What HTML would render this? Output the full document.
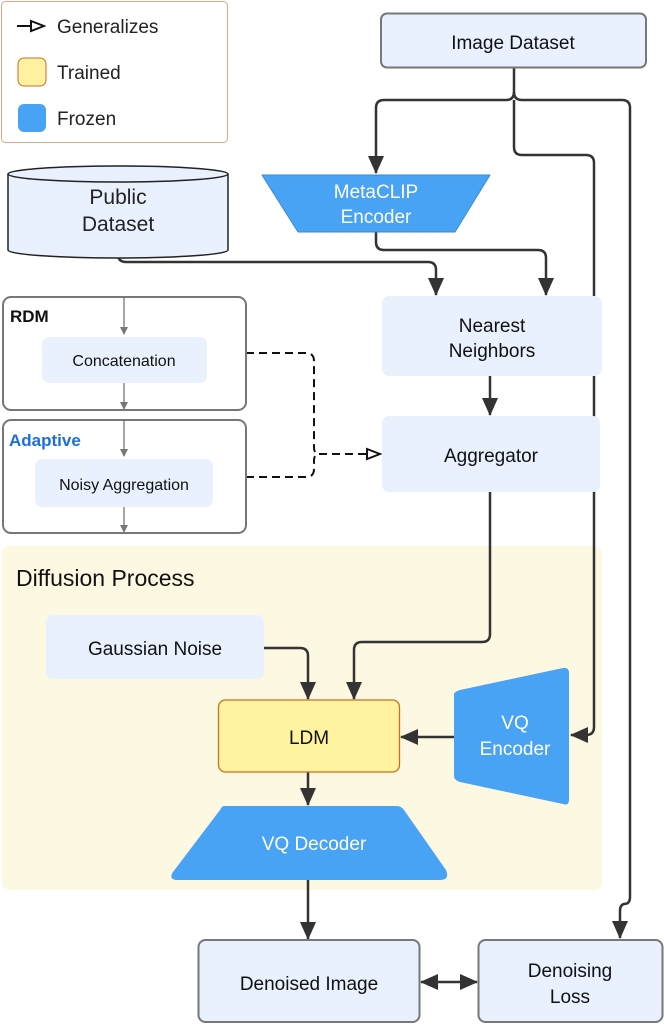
<!DOCTYPE html>
<html><head><meta charset="utf-8"><style>
html,body{margin:0;padding:0;background:#fff}
svg{display:block;font-family:"Liberation Sans",sans-serif}
</style></head><body>
<svg width="664" height="1025" viewBox="0 0 664 1025" xmlns="http://www.w3.org/2000/svg">
<defs>
<marker id="as" markerWidth="18" markerHeight="18" refX="17" refY="9" orient="auto" markerUnits="userSpaceOnUse"><path d="M0,1 L18,9 L0,17 Z" fill="#333"/></marker>
<marker id="ab" markerWidth="18" markerHeight="18" refX="1" refY="9" orient="auto" markerUnits="userSpaceOnUse"><path d="M18,1 L0,9 L18,17 Z" fill="#333"/></marker>
<marker id="ag" markerWidth="8" markerHeight="8" refX="7" refY="4" orient="auto" markerUnits="userSpaceOnUse"><path d="M0,0 L8,4 L0,8 Z" fill="#777"/></marker>
<marker id="ao" markerWidth="16" markerHeight="14" refX="14" refY="7" orient="auto" markerUnits="userSpaceOnUse"><path d="M1,2 L14,7 L1,12 Z" fill="#fff" stroke="#111" stroke-width="2"/></marker>
</defs>
<rect x="2" y="546" width="600" height="344" rx="8" fill="#fdf8e1"/>
<text x="16" y="586" font-size="23" fill="#111">Diffusion Process</text>
<rect x="1.5" y="1.5" width="226" height="141" rx="4" fill="#fff" stroke="#d9a88a"/>
<line x1="17" y1="26" x2="44" y2="26" stroke="#111" stroke-width="2" marker-end="url(#ao)"/>
<text x="57" y="33" font-size="19" fill="#222">Generalizes</text>
<rect x="18" y="58" width="28" height="28" rx="6" fill="#fff2a0" stroke="#c87020"/>
<text x="57" y="79" font-size="19" fill="#222">Trained</text>
<rect x="18" y="104" width="28" height="28" rx="6" fill="#48a3f5"/>
<text x="57" y="125" font-size="19" fill="#222">Frozen</text>
<g fill="none" stroke="#333" stroke-width="2.5">
<path d="M514 67 V92 Q514 100 506 100 H384 Q376 100 376 108 V173" marker-end="url(#as)"/>
<path d="M514 92 Q514 100 522 100 H622 Q630 100 630 108 V897 Q630 904 624 904 Q620 905 620 911 V938" marker-end="url(#as)"/>
<path d="M514 100 V147 Q514 155 522 155 H586 Q594 155 594 163 V727 Q594 735 586 735 H571" marker-end="url(#as)"/>
<path d="M118 254 Q118 262 126 262 H428 Q436 262 436 270 V295" marker-end="url(#as)"/>
<path d="M376 232 V242 Q376 250 384 250 H538 Q546 250 546 258 V295" marker-end="url(#as)"/>
<path d="M490 376 V415" marker-end="url(#as)"/>
<path d="M490 492 V634 Q490 642 482 642 H362 Q354 642 354 650 V699" marker-end="url(#as)"/>
<path d="M264 648 H300 Q308 648 308 656 V699" marker-end="url(#as)"/>
<path d="M454 737 H401" marker-end="url(#as)"/>
<path d="M308 772 V805" marker-end="url(#as)"/>
<path d="M308 880 V939" marker-end="url(#as)"/>
<path d="M421 982 H477" marker-start="url(#ab)" marker-end="url(#as)"/>
</g>
<g fill="none" stroke="#111" stroke-width="2" stroke-dasharray="8,5">
<path d="M246 353 H306 Q314 353 314 361 V448 Q314 453 319 454"/>
<path d="M246 477 H306 Q314 477 314 469 V460 Q314 455 319 454"/>
<path d="M319 454 H380" marker-end="url(#ao)"/>
</g>
<rect x="381" y="13.5" width="265" height="54" rx="6" fill="#e8f1fd" stroke="#777" stroke-width="2"/>
<text x="513" y="49" font-size="19" text-anchor="middle" fill="#111">Image Dataset</text>
<path d="M8 174 V250 A110 8 0 0 0 228 250 V174" fill="#e8f1fd" stroke="#222" stroke-width="1.5"/>
<ellipse cx="118" cy="174" rx="110" ry="8" fill="#e8f1fd" stroke="#222" stroke-width="1.5"/>
<text x="118" y="204" font-size="21" text-anchor="middle" fill="#222">Public</text>
<text x="118" y="231" font-size="21" text-anchor="middle" fill="#222">Dataset</text>
<path d="M262 175 H490 L455 232 H298 Z" fill="#48a3f5" stroke="#3a8ad6" stroke-linejoin="round"/>
<text x="376" y="198" font-size="19" text-anchor="middle" fill="#fff">MetaCLIP</text>
<text x="376" y="223" font-size="19" text-anchor="middle" fill="#fff">Encoder</text>
<rect x="382" y="296" width="220" height="80" rx="7" fill="#e8f1fd"/>
<text x="492" y="332" font-size="19" text-anchor="middle" fill="#111">Nearest</text>
<text x="492" y="357" font-size="19" text-anchor="middle" fill="#111">Neighbors</text>
<rect x="382" y="416" width="218" height="76" rx="7" fill="#e8f1fd"/>
<text x="491" y="462" font-size="19" text-anchor="middle" fill="#111">Aggregator</text>
<rect x="3" y="297" width="243" height="113" rx="8" fill="#fff" stroke="#777" stroke-width="2"/>
<text x="10" y="322" font-size="17" font-weight="bold" fill="#111">RDM</text>
<line x1="124" y1="297" x2="124" y2="334" stroke="#777" stroke-width="1.3" marker-end="url(#ag)"/>
<rect x="42" y="337" width="165" height="46" rx="7" fill="#e8f1fd"/>
<text x="124" y="366" font-size="16" text-anchor="middle" fill="#111">Concatenation</text>
<line x1="124" y1="383" x2="124" y2="409" stroke="#777" stroke-width="1.3" marker-end="url(#ag)"/>
<rect x="3" y="420" width="243" height="113" rx="8" fill="#fff" stroke="#777" stroke-width="2"/>
<text x="9" y="446" font-size="17" font-weight="bold" fill="#1a6fdc">Adaptive</text>
<line x1="124" y1="420" x2="124" y2="456" stroke="#777" stroke-width="1.3" marker-end="url(#ag)"/>
<rect x="35" y="459" width="178" height="48" rx="7" fill="#e8f1fd"/>
<text x="124" y="490" font-size="16" text-anchor="middle" fill="#111">Noisy Aggregation</text>
<line x1="124" y1="507" x2="124" y2="532" stroke="#777" stroke-width="1.3" marker-end="url(#ag)"/>
<rect x="46" y="615" width="218" height="64" rx="7" fill="#e8f1fd"/>
<text x="155" y="655" font-size="19" text-anchor="middle" fill="#111">Gaussian Noise</text>
<rect x="218.5" y="700" width="181" height="72" rx="7" fill="#fff2a0" stroke="#c87020" stroke-width="1.3"/>
<text x="309" y="744" font-size="19" text-anchor="middle" fill="#111">LDM</text>
<path d="M454 694 Q454 692 460 690 L563 668 Q569 667 569 673 V800 Q569 806 563 804 L460 782 Q454 780 454 776 Z" fill="#48a3f5"/>
<text x="515" y="729" font-size="19" text-anchor="middle" fill="#fff">VQ</text>
<text x="515" y="755" font-size="19" text-anchor="middle" fill="#fff">Encoder</text>
<path d="M224 806 H397 Q401 806 404 810 L446 870 Q450 880 440 880 H178 Q168 880 173 872 L220 810 Q222 806 224 806 Z" fill="#48a3f5"/>
<text x="314" y="850" font-size="19" text-anchor="middle" fill="#fff">VQ Decoder</text>
<rect x="198.5" y="940" width="221" height="82" rx="7" fill="#e8f1fd" stroke="#777" stroke-width="2"/>
<text x="309" y="990" font-size="19" text-anchor="middle" fill="#111">Denoised Image</text>
<rect x="478.5" y="940" width="184" height="82" rx="7" fill="#e8f1fd" stroke="#777" stroke-width="2"/>
<text x="570" y="977" font-size="19" text-anchor="middle" fill="#111">Denoising</text>
<text x="570" y="1003" font-size="19" text-anchor="middle" fill="#111">Loss</text>
</svg>
</body></html>
